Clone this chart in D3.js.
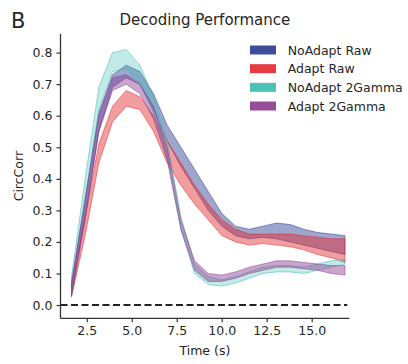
<!DOCTYPE html>
<html>
<head>
<meta charset="utf-8">
<script src="https://cdn.jsdelivr.net/npm/d3@7"></script>
<style>
  body { margin: 0; background: #fff; }
  text { font-family: "DejaVu Sans", sans-serif; fill: #262626; }
</style>
</head>
<body>
<div id="chart"></div>
<script>
// ----------------------
// DATA
// ----------------------
const times = [1.65, 2.41, 3.17, 3.93, 4.69, 5.45, 6.21, 6.97, 7.73, 8.49, 9.25,
               10.01, 10.77, 11.53, 12.29, 13.05, 13.81, 14.57, 15.33, 16.09, 16.85];

const noAdaptRawLo = [0.03, 0.28, 0.55, 0.69, 0.72, 0.70, 0.62, 0.52, 0.44, 0.37, 0.30,
                      0.25, 0.22, 0.21, 0.215, 0.21, 0.20, 0.19, 0.18, 0.17, 0.16];
const noAdaptRawHi = [0.07, 0.34, 0.61, 0.73, 0.76, 0.74, 0.67, 0.57, 0.50, 0.43, 0.36,
                      0.29, 0.25, 0.24, 0.25, 0.26, 0.255, 0.24, 0.23, 0.225, 0.22];

const adaptRawLo = [0.025, 0.22, 0.45, 0.58, 0.63, 0.62, 0.55, 0.45, 0.38, 0.32, 0.27,
                    0.22, 0.20, 0.19, 0.195, 0.19, 0.185, 0.175, 0.16, 0.15, 0.135];
const adaptRawHi = [0.06, 0.28, 0.51, 0.63, 0.68, 0.66, 0.60, 0.52, 0.45, 0.38, 0.32,
                    0.27, 0.24, 0.225, 0.225, 0.225, 0.225, 0.22, 0.215, 0.21, 0.21];

const noAdapt2GLo = [0.04, 0.33, 0.62, 0.74, 0.75, 0.70, 0.61, 0.47, 0.24, 0.10, 0.065,
                     0.06, 0.07, 0.085, 0.10, 0.105, 0.105, 0.10, 0.11, 0.12, 0.13];
const noAdapt2GHi = [0.09, 0.40, 0.69, 0.80, 0.81, 0.76, 0.66, 0.52, 0.28, 0.13, 0.09,
                     0.08, 0.09, 0.105, 0.12, 0.125, 0.125, 0.12, 0.13, 0.14, 0.145];

const adapt2GLo = [0.03, 0.27, 0.55, 0.68, 0.70, 0.67, 0.59, 0.46, 0.24, 0.11, 0.075,
                   0.075, 0.085, 0.10, 0.11, 0.12, 0.12, 0.115, 0.11, 0.10, 0.095];
const adapt2GHi = [0.07, 0.33, 0.60, 0.72, 0.73, 0.70, 0.63, 0.50, 0.27, 0.14, 0.10,
                   0.095, 0.105, 0.12, 0.13, 0.14, 0.14, 0.135, 0.13, 0.125, 0.125];

const seriesNames = ["NoAdapt Raw", "Adapt Raw", "NoAdapt 2Gamma", "Adapt 2Gamma"];
const seriesColors = ["#2b3a92", "#e3262b", "#36bcae", "#8a3a8e"];
const seriesLo = [noAdaptRawLo, adaptRawLo, noAdapt2GLo, adapt2GLo];
const seriesHi = [noAdaptRawHi, adaptRawHi, noAdapt2GHi, adapt2GHi];

const xTicks = [2.5, 5.0, 7.5, 10.0, 12.5, 15.0];
const yTicks = [0.0, 0.1, 0.2, 0.3, 0.4, 0.5, 0.6, 0.7, 0.8];

// ----------------------
// LAYOUT
// ----------------------
const W = 408, H = 364;
const plot = { left: 60.5, right: 349.3, top: 34, bottom: 318.3 };

const svg = d3.select("#chart").append("svg")
              .attr("width", W)
              .attr("height", H);

const x = d3.scaleLinear().domain([1.04, 17.09]).range([plot.left, plot.right]);
const y = d3.scaleLinear().domain([-0.042, 0.859]).range([plot.bottom, plot.top]);

// bands (teal one is paler in the figure)
const fillAlpha = [0.45, 0.45, 0.3, 0.45];

const area = d3.area()
               .x((d, i) => x(times[i]))
               .y0(d => y(d[0]))
               .y1(d => y(d[1]));

seriesNames.forEach((name, s) => {
    const band = times.map((t, i) => [seriesLo[s][i], seriesHi[s][i]]);
    svg.append("path")
       .datum(band)
       .attr("d", area)
       .attr("fill", seriesColors[s])
       .attr("fill-opacity", fillAlpha[s])
       .attr("stroke", seriesColors[s])
       .attr("stroke-opacity", 0.5)
       .attr("stroke-width", 1);
});

// zero line
svg.append("line")
   .attr("x1", plot.left)
   .attr("x2", plot.right - 2)
   .attr("y1", y(0))
   .attr("y2", y(0))
   .attr("stroke", "#222")
   .attr("stroke-width", 2)
   .attr("stroke-dasharray", "7,3.5");

// axes
const xAxis = svg.append("g")
                 .attr("transform", `translate(0,${plot.bottom})`)
                 .call(d3.axisBottom(x).tickValues(xTicks).tickFormat(d3.format(".1f")).tickSize(4).tickPadding(4));
const yAxis = svg.append("g")
                 .attr("transform", `translate(${plot.left},0)`)
                 .call(d3.axisLeft(y).tickValues(yTicks).tickFormat(d3.format(".1f")).tickSize(4).tickPadding(4));

[xAxis, yAxis].forEach(ax => {
    ax.select(".domain").attr("stroke", "#333").attr("stroke-width", 1.3);
    ax.selectAll(".tick line").attr("stroke", "#333").attr("stroke-width", 1.2);
    ax.selectAll(".tick text")
      .style("font-family", "DejaVu Sans, sans-serif")
      .style("font-size", "12.5px")
      .attr("fill", "#262626");
});
// remove the outer tick stubs d3 adds to the domain path
xAxis.select(".domain").attr("d", `M${plot.left},0H${plot.right}`);
yAxis.select(".domain").attr("d", `M0,${plot.top}V${plot.bottom}`);

// labels
svg.append("text")
   .attr("x", (plot.left + plot.right) / 2)
   .attr("y", 355)
   .attr("text-anchor", "middle")
   .style("font-size", "12.5px")
   .text("Time (s)");

svg.append("text")
   .attr("transform", `translate(23,${(plot.top + plot.bottom) / 2}) rotate(-90)`)
   .attr("text-anchor", "middle")
   .style("font-size", "12.5px")
   .text("CircCorr");

svg.append("text")
   .attr("x", (plot.left + plot.right) / 2)
   .attr("y", 25)
   .attr("text-anchor", "middle")
   .style("font-size", "15px")
   .text("Decoding Performance");

svg.append("text")
   .attr("x", 11)
   .attr("y", 28.3)
   .style("font-size", "21px")
   .text("B");

// legend
const legend = svg.append("g").attr("transform", "translate(250,50)");
seriesNames.forEach((name, s) => {
    const row = legend.append("g").attr("transform", `translate(0,${s * 18.67})`);
    row.append("rect")
       .attr("x", 0)
       .attr("y", -4.5)
       .attr("width", 26)
       .attr("height", 9)
       .attr("fill", seriesColors[s])
       .attr("fill-opacity", 0.9);
    row.append("text")
       .attr("x", 37.7)
       .attr("y", 4.5)
       .style("font-size", "12.5px")
       .text(name);
});
</script>
</body>
</html>
